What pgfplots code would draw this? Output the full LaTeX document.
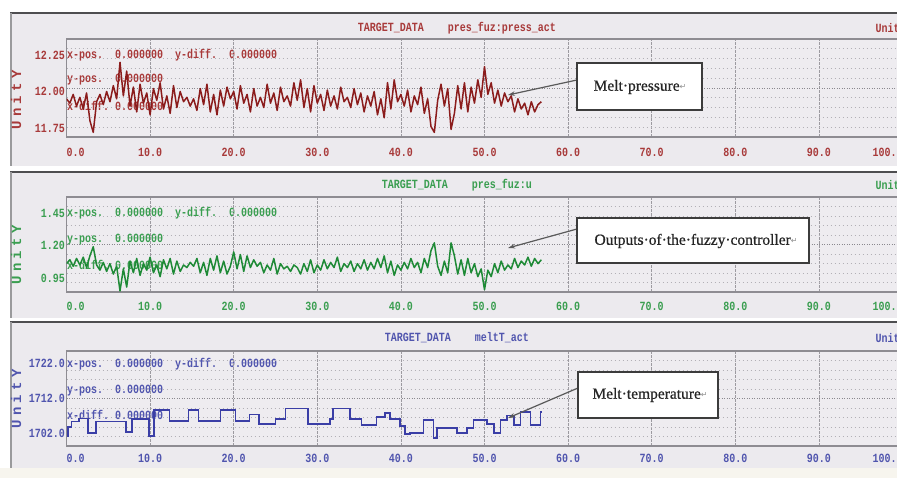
\documentclass[border=0pt]{standalone}
\usepackage{fontspec}
\usepackage{pgfplots}
\usepackage{pgfplotstable}
\pgfplotsset{compat=1.18}
\usetikzlibrary{arrows.meta}
\setmainfont{Liberation Serif}
\newfontfamily\tickfont{Liberation Mono Bold}[FakeStretch=0.8]
\newfontfamily\unitfont{Liberation Mono Bold}[LetterSpace=30]
\newfontfamily\annfont{Liberation Serif}[FakeBold=0.6]
\newfontfamily\dejavu{DejaVu Sans}
\newcommand{\tf}{\tickfont\fontsize{12.5}{13}\selectfont}
\newcommand{\uf}{\unitfont\fontsize{14}{14}\selectfont}
\newcommand{\af}{\annfont\fontsize{15.5}{16}\selectfont}
\newcommand{\ret}{{\dejavu\fontsize{8}{8}\selectfont\color{retc}\raisebox{1pt}{↵}}}
\definecolor{pbg}{HTML}{ECEAEE}
\definecolor{boxbg}{HTML}{EEECF0}
\definecolor{cream}{HTML}{F7F5EE}
\definecolor{topc}{HTML}{4E4E50}
\definecolor{leftc}{HTML}{9A9A9C}
\definecolor{framec}{HTML}{8E8C92}
\definecolor{gridc}{HTML}{B2B0B6}
\definecolor{vgridc}{HTML}{9C9AA0}
\definecolor{midc}{HTML}{8A888E}
\definecolor{rtr}{HTML}{8B1C1C}
\definecolor{rtx}{HTML}{A83A3A}
\definecolor{gtr}{HTML}{1E8A36}
\definecolor{gtx}{HTML}{3A9E50}
\definecolor{btr}{HTML}{3A3EA6}
\definecolor{btx}{HTML}{5055AE}
\definecolor{annb}{HTML}{3C3C3C}
\definecolor{arrc}{HTML}{5A5A5A}
\definecolor{retc}{HTML}{909090}
\definecolor{anntx}{HTML}{262626}

% x, melt pressure, fuzzy controller output
\pgfplotstableread[row sep=\\]{
x p u\\
0.0 11.95 1.06\\ 0.4 11.92 1.09\\ 0.8 11.98 1.04\\ 1.2 11.90 1.10\\ 1.6 11.96 1.05\\
2.0 11.88 1.11\\ 2.4 11.99 1.03\\ 2.8 11.80 1.12\\ 3.2 11.72 1.19\\ 3.6 11.93 1.05\\
4.0 11.98 1.01\\ 4.4 11.91 1.07\\ 4.8 12.00 1.00\\ 5.2 11.93 1.06\\ 5.6 12.04 0.98\\
6.0 11.95 1.04\\ 6.4 12.20 0.85\\ 6.8 11.97 1.02\\ 7.2 12.14 0.88\\ 7.6 11.90 1.08\\
8.0 12.03 0.99\\ 8.4 11.86 1.10\\ 8.8 12.05 0.97\\ 9.2 11.92 1.06\\ 9.6 11.99 1.01\\
10.0 11.84 1.11\\ 10.4 12.02 0.99\\ 10.8 11.94 1.05\\ 11.2 12.06 0.96\\ 11.6 11.88 1.09\\
12.0 11.97 1.02\\ 12.4 11.85 1.10\\ 12.8 12.04 0.98\\ 13.2 11.89 1.08\\ 13.6 12.00 1.00\\
14.0 11.93 1.05\\ 14.4 11.96 1.03\\ 14.8 11.90 1.07\\ 15.2 11.95 1.04\\ 15.6 11.87 1.10\\
16.0 12.02 0.99\\ 16.4 11.91 1.07\\ 16.8 12.05 0.97\\ 17.2 11.86 1.10\\ 17.6 11.98 1.01\\
18.0 11.84 1.12\\ 18.4 12.01 0.99\\ 18.8 11.90 1.08\\ 19.2 12.03 0.98\\ 19.6 11.95 1.04\\
20.0 12.00 1.15\\ 20.4 11.88 1.02\\ 20.8 12.04 1.13\\ 21.2 11.92 1.00\\ 21.6 11.98 1.12\\
22.0 11.86 1.03\\ 22.4 12.02 1.09\\ 22.8 11.90 1.04\\ 23.2 11.96 1.07\\ 23.6 11.89 0.99\\
24.0 12.05 1.05\\ 24.4 11.92 1.01\\ 24.8 11.99 1.10\\ 25.2 11.87 0.98\\ 25.6 12.03 1.06\\
26.0 11.93 1.02\\ 26.4 11.97 1.04\\ 26.8 11.90 1.00\\ 27.2 12.06 1.05\\ 27.6 11.94 1.03\\
28.0 12.08 0.98\\ 28.4 11.89 1.06\\ 28.8 12.02 1.00\\ 29.2 11.86 1.09\\ 29.6 12.04 0.99\\
30.0 11.92 1.05\\ 30.4 11.98 1.01\\ 30.8 11.87 1.09\\ 31.2 12.01 1.02\\ 31.6 11.90 1.07\\
32.0 11.97 1.03\\ 32.4 11.88 1.11\\ 32.8 12.03 1.00\\ 33.2 11.93 1.06\\ 33.6 11.96 1.03\\
34.0 11.89 1.08\\ 34.4 12.02 1.00\\ 34.8 11.91 1.06\\ 35.2 11.99 1.02\\ 35.6 11.86 1.09\\
36.0 11.97 1.01\\ 36.4 11.90 1.07\\ 36.8 12.00 1.02\\ 37.2 11.84 1.10\\ 37.6 11.95 1.03\\
38.0 11.82 1.12\\ 38.4 12.06 0.99\\ 38.8 11.88 1.08\\ 39.2 12.08 0.97\\ 39.6 11.93 1.05\\
40.0 11.98 1.01\\ 40.4 11.90 1.07\\ 40.8 12.01 1.02\\ 41.2 11.86 1.10\\ 41.6 11.97 1.03\\
42.0 11.91 1.07\\ 42.4 12.03 0.99\\ 42.8 11.85 1.10\\ 43.2 11.95 1.03\\ 43.6 11.76 1.16\\
44.0 11.72 1.22\\ 44.4 11.94 1.04\\ 44.8 12.05 0.97\\ 45.2 11.90 1.08\\ 45.6 12.02 0.99\\
46.0 11.74 1.22\\ 46.4 11.85 1.12\\ 46.8 12.04 0.98\\ 47.2 11.88 1.09\\ 47.6 12.06 0.97\\
48.0 11.86 1.10\\ 48.4 12.03 0.99\\ 48.8 11.92 1.06\\ 49.2 12.08 0.96\\ 49.6 11.96 1.02\\
50.0 12.17 0.86\\ 50.4 11.98 1.01\\ 50.8 12.06 0.96\\ 51.2 11.92 1.06\\ 51.6 12.01 0.99\\
52.0 11.90 1.08\\ 52.4 11.99 1.01\\ 52.8 11.93 1.05\\ 53.2 11.97 1.02\\ 53.6 11.86 1.10\\
54.0 11.95 1.03\\ 54.4 11.88 1.08\\ 54.8 11.92 1.05\\ 55.2 11.84 1.11\\ 55.6 11.93 1.04\\
56.0 11.86 1.10\\ 56.4 11.91 1.06\\ 56.8 11.93 1.09\\
}\tabPU

% melt temperature (step signal)
\pgfplotstableread[row sep=\\]{
x t\\
0.0 1701.0\\ 0.2 1703.7\\ 0.6 1705.3\\ 1.5 1706.2\\ 2.6 1702.0\\ 3.5 1705.3\\
7.1 1702.3\\ 7.8 1706.0\\ 9.9 1701.2\\ 10.5 1708.6\\ 12.3 1705.5\\ 14.6 1708.6\\
15.8 1705.5\\ 18.4 1708.6\\ 20.2 1705.5\\ 21.9 1707.3\\ 23.0 1704.5\\ 25.0 1706.0\\
26.2 1709.0\\ 28.9 1704.5\\ 31.5 1706.0\\ 31.9 1709.0\\ 33.9 1706.0\\ 35.3 1704.3\\
37.1 1706.5\\ 38.1 1707.7\\ 38.7 1706.0\\ 39.9 1704.0\\ 40.5 1701.7\\ 41.1 1702.0\\
42.7 1705.7\\ 43.9 1700.6\\ 44.3 1703.4\\ 46.7 1702.0\\ 47.9 1703.4\\ 48.7 1705.7\\
50.3 1704.5\\ 51.1 1702.0\\ 51.9 1705.7\\ 52.7 1707.0\\ 53.5 1704.3\\ 54.3 1708.0\\
55.5 1704.3\\ 56.7 1708.0\\ 56.8 1708.0\\
}\tabT

\pgfplotsset{
  xpc/.style={
    scale only axis, width=836pt, xmin=0, xmax=100,
    axis line style={draw=framec, line width=1.3pt},
    xtick={0,10,...,100},
    xticklabels={\makebox[0pt][l]{0.0},10.0,20.0,30.0,40.0,50.0,60.0,70.0,80.0,90.0,\makebox[0pt][r]{100.0}},
    major tick length=0pt, minor tick length=0pt,
    xmajorgrids, yminorgrids,
    major grid style={draw=vgridc, line width=0.8pt, dash pattern=on 2.5pt off 1.5pt},
    minor grid style={draw=gridc, line width=0.7pt, dash pattern=on 1.5pt off 2.5pt},
    extra y tick labels={},
    extra y tick style={grid=major, major grid style={draw=midc, line width=0.9pt, dash pattern=on 1.3pt off 1.2pt}},
    xticklabel style={font=\tf, anchor=north, inner sep=0pt},
    yticklabel style={font=\tf, anchor=east, inner sep=0pt, xshift=-1.5pt},
  }
}

\begin{document}
\begin{tikzpicture}[x=1pt,y=1pt]
% page background
\fill[white] (0,0) rectangle (897,478);
\fill[cream] (0,0) rectangle (897,10);
% panels
\foreach \t/\b in {12/166,171/318,321/468}{
  \fill[pbg] (10,{478-\b}) rectangle (897,{478-\t});
  \draw[topc, line width=2pt] (10,{478-\t-1}) -- (897,{478-\t-1});
  \draw[leftc, line width=1.5pt] (10.75,{478-\t-1}) -- (10.75,{478-\b});
}
\fill[boxbg] (66.5,{478-137}) rectangle (902.5,{478-39});
\fill[boxbg] (66.5,{478-292}) rectangle (902.5,{478-197});
\fill[boxbg] (66.5,{478-446}) rectangle (902.5,{478-351});

% titles and units
\node[font=\tf, text=rtx] at (457,{478-28}) {TARGET\_DATA~~~~pres\_fuz:press\_act};
\node[font=\tf, text=rtx, anchor=west] at (872,{478-28}) {UnitY};
\node[font=\tf, text=gtx] at (457,{478-185}) {TARGET\_DATA~~~~pres\_fuz:u};
\node[font=\tf, text=gtx, anchor=west] at (872,{478-185}) {UnitY};
\node[font=\tf, text=btx] at (457,{478-338}) {TARGET\_DATA~~~~meltT\_act};
\node[font=\tf, text=btx, anchor=west] at (872,{478-338}) {UnitY};

% y axis names
\node[font=\uf, text=rtx, rotate=90] at (16,{478-100}) {UnitY};
\node[font=\uf, text=gtx, rotate=90] at (16,{478-255}) {UnitY};
\node[font=\uf, text=btx, rotate=90] at (16,{478-399}) {UnitY};

% cursor readouts
\begin{scope}[every node/.style={font=\tf, anchor=west, inner sep=0pt}]
\node[text=rtx] at (67,{478-55}) {x-pos.~~0.000000~~y-diff.~~0.000000};
\node[text=rtx] at (67,{478-80}) {y-pos.~~0.000000};
\node[text=rtx] at (67,{478-106}) {x-diff.~0.000000};
\node[text=gtx] at (67,{478-213}) {x-pos.~~0.000000~~y-diff.~~0.000000};
\node[text=gtx] at (67,{478-240}) {y-pos.~~0.000000};
\node[text=gtx] at (67,{478-265}) {x-diff.~0.000000};
\node[text=btx] at (67,{478-364}) {x-pos.~~0.000000~~y-diff.~~0.000000};
\node[text=btx] at (67,{478-391}) {y-pos.~~0.000000};
\node[text=btx] at (67,{478-415}) {x-diff.~0.000000};
\end{scope}

% panel 1: melt pressure
\begin{axis}[xpc, at={(66.5pt,341pt)}, anchor=south west, height=98pt,
  ymin=11.6884, ymax=12.3596,
  ytick={11.75,12.00,12.25}, yticklabels={11.75,12.00,12.25},
  minor ytick={11.7555,11.8226,11.8898,11.9569,12.0911,12.1582,12.2254,12.2925},
  extra y ticks={12.0240},
  xticklabel style={text=rtx, yshift=-11pt}, yticklabel style={text=rtx}]
\addplot[rtr, line width=1.5pt, line join=round] table[x=x, y=p] {\tabPU};
\end{axis}

% panel 2: fuzzy controller output
\begin{axis}[xpc, at={(66.5pt,186pt)}, anchor=south west, height=95pt,
  ymin=0.842, ymax=1.573,
  ytick={0.95,1.20,1.45}, yticklabels={0.95,1.20,1.45},
  minor ytick={0.9151,0.9882,1.0613,1.1344,1.2806,1.3537,1.4268,1.4999},
  extra y ticks={1.2075},
  xticklabel style={text=gtx, yshift=-10pt}, yticklabel style={text=gtx}]
\addplot[gtr, line width=1.5pt, line join=round] table[x=x, y=u] {\tabPU};
\end{axis}

% panel 3: melt temperature
\begin{axis}[xpc, at={(66.5pt,32pt)}, anchor=south west, height=95pt,
  ymin=1698.29, ymax=1725.43,
  ytick={1702,1712,1722}, yticklabels={1702.0,1712.0,1722.0},
  minor ytick={1701.00,1703.72,1706.43,1709.15,1714.57,1717.29,1720.00,1722.72},
  extra y ticks={1711.86},
  xticklabel style={text=btx, yshift=-8pt}, yticklabel style={text=btx}]
\addplot[const plot, btr, line width=1.6pt] table[x=x, y=t] {\tabT};
\end{axis}

% annotations
\begin{scope}[arr/.style={draw=arrc, line width=1.2pt, -{Stealth[length=7pt,width=4.5pt]}}]
\draw[arr] (577,{478-80}) -- (508,{478-95});
\draw[annb, line width=1.6pt, fill=white] (577,{478-63}) rectangle (702,{478-110});
\node[font=\af, text=anntx] at (640,{478-87}) {Melt·pressure\ret};

\draw[arr] (577,{478-229}) -- (508,{478-248});
\draw[annb, line width=1.6pt, fill=white] (577,{478-218}) rectangle (809,{478-263});
\node[font=\af, text=anntx] at (696,{478-241}) {Outputs·of·the·fuzzy·controller\ret};

\draw[arr] (578,{478-388}) -- (508,{478-418});
\draw[annb, line width=1.6pt, fill=white] (578,{478-372}) rectangle (718,{478-418});
\node[font=\af, text=anntx] at (650,{478-395}) {Melt·temperature\ret};
\end{scope}

\pgfresetboundingbox
\path[use as bounding box] (0,0) rectangle (897,478);
\end{tikzpicture}
\end{document}
